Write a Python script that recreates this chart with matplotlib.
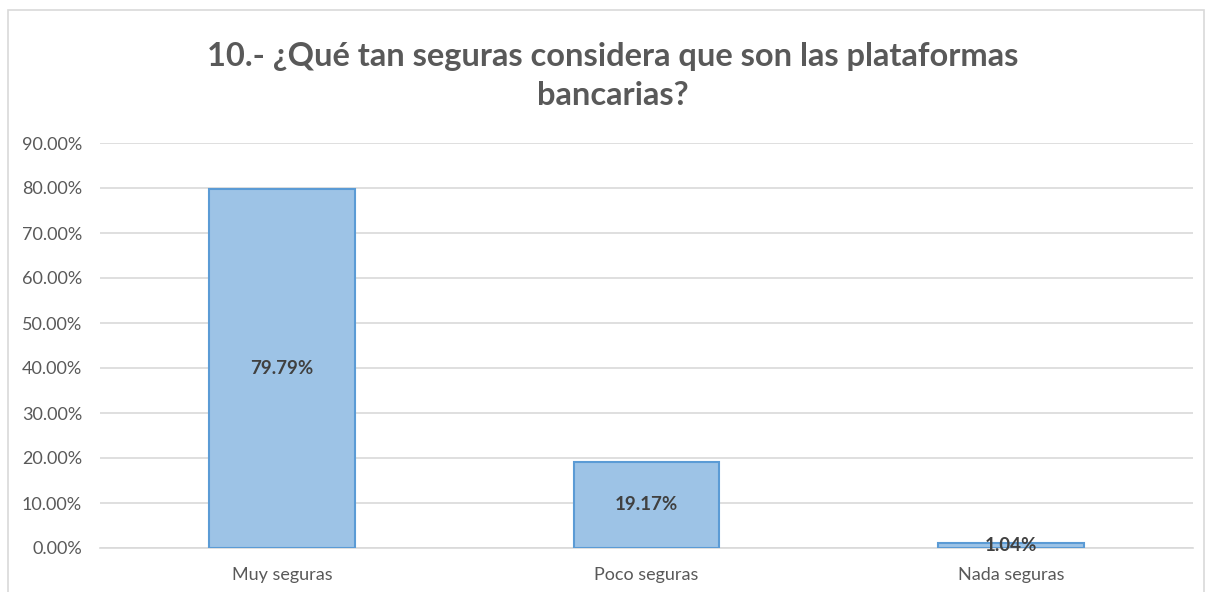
import matplotlib
matplotlib.use("Agg")
import matplotlib.pyplot as plt
from matplotlib.patches import Rectangle
from matplotlib.ticker import FuncFormatter, MultipleLocator

categories = ["Muy seguras", "Poco seguras", "Nada seguras"]
values = [79.79, 19.17, 1.04]
labels = ["79.79%", "19.17%", "1.04%"]
title = "10.- ¿Qué tan seguras considera que son las plataformas\nbancarias?"

plt.rcParams['font.family'] = ['Lato', 'DejaVu Sans']
gray = "#595959"

fig = plt.figure(figsize=(12.08, 5.92), dpi=100)
fig.patches.append(Rectangle((8/1208, -0.05), 1196/1208, 1.05 - 10/592,
                             transform=fig.transFigure, fill=False,
                             edgecolor="#D9D9D9", linewidth=1.2))
ax = fig.add_axes([100/1208, 44/592, 1093/1208, 405/592])
x = list(range(len(categories)))
ax.bar(x, values, width=0.40, color="#9DC3E6", edgecolor="#5B9BD5", linewidth=1.5, zorder=3)
for xi, v, lab in zip(x, values, labels):
    ax.text(xi, max(v / 2, 0.6), lab, ha="center", va="center", fontsize=13.5,
            fontweight="bold", color="#404040", zorder=4)
ax.set_xlim(-0.5, 2.5)
ax.set_ylim(0, 90)
ax.yaxis.set_major_locator(MultipleLocator(10))
ax.yaxis.set_major_formatter(FuncFormatter(lambda v, p: f"{v:.2f}%"))
ax.set_xticks(x)
ax.set_xticklabels(categories)
ax.grid(axis="y", color="#D9D9D9", linewidth=1.2, zorder=0)
for s in ["top", "right", "left"]:
    ax.spines[s].set_visible(False)
ax.spines["bottom"].set_color("#D9D9D9")
ax.spines["bottom"].set_linewidth(1.2)
ax.tick_params(axis="both", length=0, labelsize=13, colors=gray)
ax.tick_params(axis="x", pad=14)
ax.tick_params(axis="y", pad=13)
fig.text(613/1208, 1 - 76/592, title, ha="center", va="center", fontsize=23.5,
         fontweight="bold", color=gray, linespacing=1.43)
fig.savefig("out.png", dpi=100)
